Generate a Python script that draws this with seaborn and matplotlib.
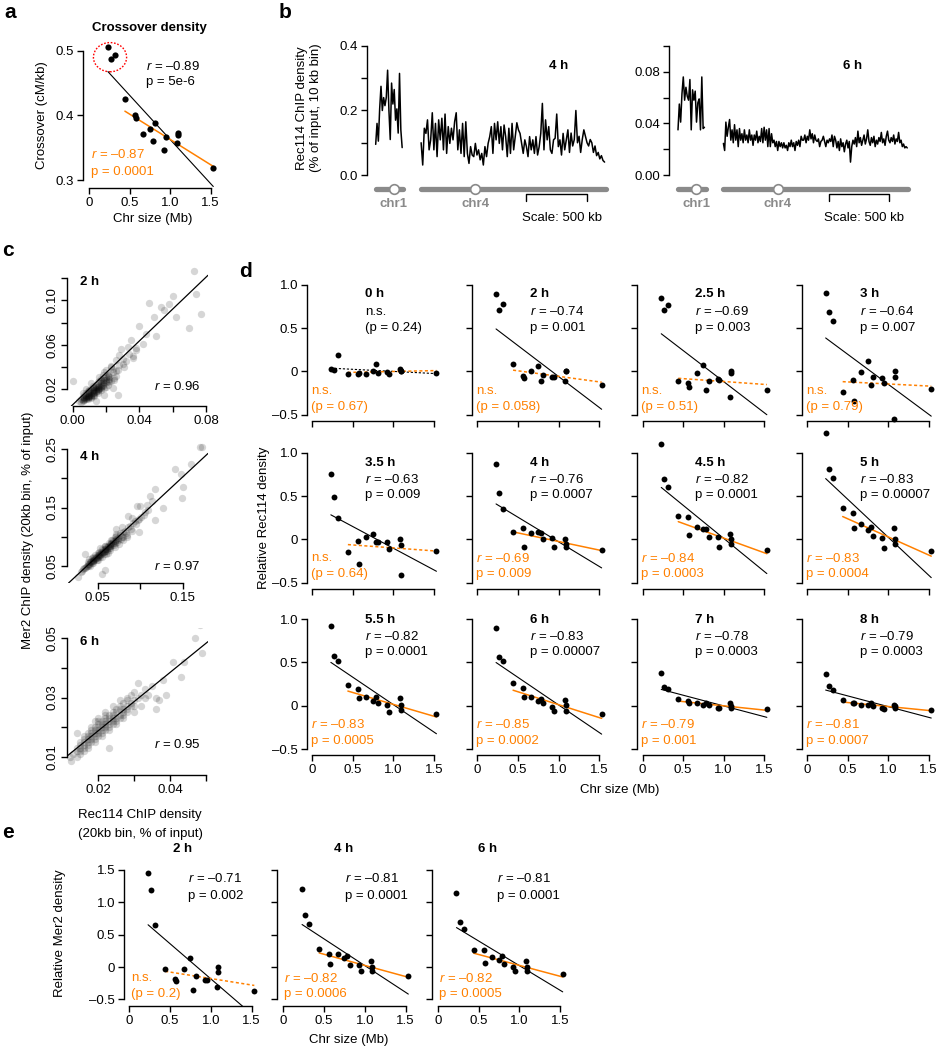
import numpy as np
import pandas as pd
import seaborn as sns
import matplotlib.pyplot as plt
from matplotlib.patches import Ellipse

sns.set_theme(style="ticks")
plt.rcParams["font.family"] = ["Liberation Sans", "DejaVu Sans"]
plt.rcParams["mathtext.fontset"] = "custom"
plt.rcParams["mathtext.rm"] = "Liberation Sans"
plt.rcParams["mathtext.it"] = "Liberation Sans:italic"
for k in ["axes.edgecolor", "xtick.color", "ytick.color", "text.color", "axes.labelcolor"]:
    plt.rcParams[k] = "black"

ORANGE = "#FF8000"
GRAY = "#8a8a8a"
FS = 9.5

# ---------------- data ----------------
chroms = ["chr1", "chr2", "chr3", "chr4", "chr5", "chr6", "chr7", "chr8",
          "chr9", "chr10", "chr11", "chr12", "chr13", "chr14", "chr15", "chr16"]
chr_size = [0.230, 0.813, 0.317, 1.532, 0.577, 0.270, 1.091, 0.563,
            0.440, 0.746, 0.667, 1.078, 0.924, 0.784, 1.091, 0.948]
small_chr = ["chr1", "chr3", "chr6"]

# panel a: crossover density (cM/kb)
crossover = [0.505, 0.388, 0.494, 0.319, 0.396, 0.487, 0.370, 0.401,
             0.425, 0.379, 0.372, 0.357, 0.347, 0.361, 0.373, 0.367]

# panel b: Rec114 ChIP traces (% of input, 10 kb bins)
b4_chr1 = [0.095, 0.16, 0.105, 0.205, 0.275, 0.2, 0.24, 0.215, 0.24, 0.325, 0.2,
           0.11, 0.285, 0.22, 0.265, 0.17, 0.205, 0.13, 0.315, 0.14, 0.085]
b4_chr4 = [0.100, 0.031, 0.145, 0.129, 0.171, 0.078, 0.109, 0.193, 0.078, 0.160,
           0.057, 0.171, 0.109, 0.176, 0.078, 0.189, 0.067, 0.150, 0.098, 0.145,
           0.109, 0.165, 0.193, 0.078, 0.140, 0.067, 0.160, 0.057, 0.165, 0.067,
           0.036, 0.088, 0.062, 0.057, 0.098, 0.062, 0.078, 0.047, 0.067, 0.031,
           0.088, 0.057, 0.098, 0.119, 0.150, 0.067, 0.160, 0.109, 0.165, 0.098,
           0.150, 0.078, 0.155, 0.119, 0.057, 0.145, 0.067, 0.160, 0.078, 0.119,
           0.162, 0.140, 0.129, 0.098, 0.067, 0.109, 0.088, 0.057, 0.119, 0.078,
           0.109, 0.067, 0.119, 0.062, 0.088, 0.129, 0.222, 0.078, 0.171, 0.109,
           0.150, 0.078, 0.067, 0.109, 0.114, 0.189, 0.088, 0.109, 0.062, 0.129,
           0.078, 0.109, 0.14, 0.07, 0.13, 0.09, 0.11, 0.20, 0.10, 0.12,
           0.07, 0.11, 0.14, 0.12, 0.10, 0.09, 0.11, 0.10, 0.07, 0.09,
           0.06, 0.07, 0.05, 0.06, 0.045, 0.04]
b6_chr1 = [0.035, 0.055, 0.041, 0.063, 0.076, 0.058, 0.068, 0.061, 0.058, 0.074, 0.035,
           0.066, 0.058, 0.065, 0.041, 0.056, 0.059, 0.035, 0.076, 0.036, 0.037]
b6_chr4 = [0.0245, 0.019, 0.041, 0.030, 0.037, 0.043, 0.027, 0.035, 0.025, 0.039,
           0.027, 0.035, 0.022, 0.036, 0.027, 0.032, 0.025, 0.035, 0.027, 0.031,
           0.025, 0.035, 0.027, 0.031, 0.023, 0.031, 0.027, 0.034, 0.025, 0.030,
           0.026, 0.036, 0.025, 0.037, 0.027, 0.035, 0.022, 0.036, 0.022, 0.032,
           0.025, 0.027, 0.022, 0.026, 0.019, 0.026, 0.022, 0.025, 0.021, 0.025,
           0.021, 0.023, 0.019, 0.025, 0.022, 0.027, 0.022, 0.025, 0.019, 0.026,
           0.023, 0.027, 0.022, 0.030, 0.027, 0.027, 0.031, 0.025, 0.030, 0.027,
           0.035, 0.028, 0.032, 0.025, 0.031, 0.027, 0.026, 0.028, 0.022, 0.026,
           0.027, 0.030, 0.026, 0.022, 0.027, 0.025, 0.028, 0.026, 0.031, 0.022,
           0.030, 0.027, 0.021, 0.026, 0.019, 0.028, 0.022, 0.025, 0.018, 0.024,
           0.027, 0.021, 0.026, 0.010, 0.022, 0.027, 0.024, 0.029, 0.022, 0.034,
           0.025, 0.029, 0.023, 0.027, 0.031, 0.024, 0.028, 0.035, 0.026, 0.023,
           0.029, 0.025, 0.030, 0.022, 0.027, 0.024, 0.029, 0.026, 0.033, 0.025,
           0.028, 0.023, 0.030, 0.034, 0.027, 0.025, 0.029, 0.026, 0.031, 0.024,
           0.028, 0.026, 0.033, 0.025, 0.027, 0.022, 0.024, 0.021, 0.022, 0.021]
centromere = {"chr1": 0.151, "chr4": 0.449}

# panel c: Mer2 vs Rec114 (20 kb bins)
c2_rec114 = [0.073, 0.060, 0.074, 0.046, 0.053, 0.058, 0.055, 0.077, 0.070, 0.049,
             0.040, 0.050, 0.042, 0.035, 0.033, 0.029, 0.028, 0.032, 0.026, 0.023,
             0.020, 0.018, 0.027, 0.019, 0.0004, 0.019, 0.062, 0.038, 0.044, 0.036,
             0.030, 0.024, 0.021, 0.025, 0.004, 0.005, 0.006, 0.006, 0.007, 0.007,
             0.008, 0.008, 0.009, 0.009, 0.010, 0.010, 0.010, 0.011, 0.011, 0.012,
             0.012, 0.012, 0.013, 0.013, 0.014, 0.014, 0.015, 0.015, 0.016, 0.016,
             0.017, 0.017, 0.018, 0.019, 0.020, 0.021, 0.022, 0.024, 0.013, 0.015,
             0.017, 0.008, 0.011, 0.020, 0.022, 0.025, 0.009, 0.011, 0.006, 0.016,
             0.019, 0.023, 0.026, 0.028, 0.030, 0.031, 0.034, 0.036, 0.038, 0.024,
             0.027, 0.014,
             0.005, 0.006, 0.007, 0.007, 0.008, 0.008, 0.009, 0.009, 0.010, 0.010,
             0.011, 0.011, 0.012, 0.012, 0.013, 0.013, 0.014, 0.014, 0.015, 0.015,
             0.016, 0.016, 0.017, 0.017, 0.018, 0.018, 0.019, 0.020, 0.021, 0.022,
             0.009, 0.010, 0.012, 0.013, 0.014, 0.015, 0.017, 0.018, 0.020, 0.022,
             0.007, 0.008, 0.011, 0.013, 0.015, 0.017, 0.019, 0.021, 0.023, 0.026]
c2_mer2 = [0.127, 0.104, 0.106, 0.098, 0.094, 0.097, 0.091, 0.088, 0.075, 0.085,
           0.077, 0.068, 0.061, 0.064, 0.058, 0.056, 0.051, 0.045, 0.046, 0.041,
           0.037, 0.033, 0.037, 0.028, 0.027, 0.015, 0.085, 0.055, 0.070, 0.048,
           0.043, 0.038, 0.032, 0.028, 0.009, 0.011, 0.010, 0.013, 0.012, 0.015,
           0.013, 0.016, 0.014, 0.018, 0.015, 0.019, 0.017, 0.016, 0.020, 0.018,
           0.021, 0.023, 0.019, 0.022, 0.020, 0.024, 0.022, 0.026, 0.023, 0.027,
           0.025, 0.029, 0.026, 0.030, 0.028, 0.033, 0.031, 0.035, 0.015, 0.018,
           0.021, 0.020, 0.025, 0.022, 0.026, 0.030, 0.011, 0.013, 0.016, 0.031,
           0.035, 0.040, 0.036, 0.042, 0.047, 0.040, 0.052, 0.050, 0.057, 0.021,
           0.015, 0.009,
           0.008, 0.009, 0.010, 0.011, 0.011, 0.012, 0.012, 0.013, 0.013, 0.014,
           0.014, 0.015, 0.015, 0.016, 0.016, 0.017, 0.017, 0.018, 0.019, 0.020,
           0.020, 0.021, 0.022, 0.023, 0.023, 0.024, 0.025, 0.026, 0.027, 0.029,
           0.016, 0.018, 0.019, 0.021, 0.022, 0.024, 0.027, 0.028, 0.031, 0.034,
           0.013, 0.014, 0.012, 0.014, 0.016, 0.019, 0.021, 0.024, 0.027, 0.032]
c4_rec114 = [0.170, 0.173, 0.141, 0.148, 0.160, 0.150, 0.149, 0.117, 0.112, 0.114,
             0.096, 0.100, 0.127, 0.108, 0.086, 0.090, 0.117, 0.078, 0.072, 0.098,
             0.080, 0.035, 0.059, 0.055, 0.027, 0.030, 0.033, 0.035, 0.037, 0.038,
             0.040, 0.041, 0.042, 0.043, 0.044, 0.045, 0.046, 0.047, 0.048, 0.049,
             0.050, 0.051, 0.052, 0.053, 0.054, 0.055, 0.056, 0.057, 0.058, 0.059,
             0.060, 0.061, 0.062, 0.063, 0.064, 0.065, 0.066, 0.067, 0.068, 0.070,
             0.072, 0.074, 0.076, 0.078, 0.080, 0.083, 0.086, 0.089, 0.092, 0.095,
             0.099, 0.104, 0.109, 0.050, 0.055, 0.060, 0.065, 0.070, 0.075, 0.045,
             0.050, 0.058, 0.066, 0.072, 0.080, 0.085, 0.062, 0.053, 0.040, 0.070,
             0.036, 0.038, 0.040, 0.042, 0.044, 0.046, 0.048, 0.050, 0.052, 0.054,
             0.056, 0.058, 0.060, 0.062, 0.064, 0.066, 0.068, 0.070, 0.072, 0.074,
             0.041, 0.045, 0.049, 0.053, 0.057, 0.061, 0.065, 0.069, 0.073, 0.077,
             0.039, 0.043, 0.047, 0.051, 0.055, 0.059, 0.063, 0.067, 0.071, 0.076,
             0.082, 0.088, 0.094, 0.101, 0.032, 0.034, 0.084, 0.090, 0.097, 0.106]
c4_mer2 = [0.253, 0.253, 0.216, 0.207, 0.224, 0.185, 0.167, 0.182, 0.170, 0.161,
           0.152, 0.152, 0.150, 0.155, 0.135, 0.132, 0.129, 0.117, 0.114, 0.108,
           0.099, 0.070, 0.043, 0.037, 0.031, 0.040, 0.045, 0.046, 0.050, 0.053,
           0.052, 0.056, 0.059, 0.055, 0.061, 0.058, 0.064, 0.062, 0.066, 0.063,
           0.069, 0.067, 0.071, 0.068, 0.074, 0.072, 0.077, 0.074, 0.079, 0.076,
           0.082, 0.079, 0.085, 0.081, 0.087, 0.084, 0.090, 0.086, 0.093, 0.090,
           0.097, 0.095, 0.103, 0.100, 0.108, 0.106, 0.116, 0.113, 0.124, 0.121,
           0.131, 0.137, 0.145, 0.060, 0.066, 0.070, 0.077, 0.083, 0.088, 0.066,
           0.073, 0.085, 0.094, 0.104, 0.095, 0.100, 0.073, 0.080, 0.062, 0.100,
           0.048, 0.050, 0.054, 0.056, 0.058, 0.061, 0.063, 0.066, 0.069, 0.071,
           0.074, 0.076, 0.079, 0.082, 0.084, 0.087, 0.089, 0.092, 0.095, 0.098,
           0.050, 0.055, 0.060, 0.065, 0.070, 0.075, 0.080, 0.086, 0.091, 0.096,
           0.057, 0.063, 0.068, 0.074, 0.079, 0.084, 0.090, 0.095, 0.101, 0.107,
           0.110, 0.118, 0.127, 0.133, 0.042, 0.047, 0.103, 0.109, 0.128, 0.142]
c6_rec114 = [0.0484, 0.047, 0.049, 0.041, 0.044, 0.043, 0.039, 0.037, 0.036, 0.036,
             0.033, 0.032, 0.030, 0.028, 0.027, 0.023, 0.014, 0.0125, 0.031, 0.029,
             0.014, 0.015, 0.015, 0.016, 0.016, 0.017, 0.017, 0.018, 0.018, 0.019,
             0.019, 0.020, 0.020, 0.021, 0.021, 0.022, 0.022, 0.023, 0.023, 0.024,
             0.024, 0.025, 0.025, 0.026, 0.026, 0.027, 0.028, 0.029, 0.013, 0.014,
             0.017, 0.019, 0.021, 0.018, 0.020, 0.022, 0.024, 0.026, 0.016, 0.023,
             0.025, 0.027, 0.015, 0.012, 0.030, 0.028,
             0.015, 0.016, 0.017, 0.018, 0.019, 0.020, 0.021, 0.022, 0.023, 0.024,
             0.016, 0.017, 0.018, 0.019, 0.020, 0.021, 0.022, 0.023, 0.024, 0.025,
             0.017, 0.018, 0.019, 0.020, 0.021, 0.022, 0.023, 0.024, 0.025, 0.026,
             0.014, 0.015, 0.016, 0.027, 0.028, 0.029, 0.030, 0.031, 0.032, 0.033,
             0.026, 0.027, 0.028, 0.030, 0.035, 0.038, 0.034, 0.020, 0.019, 0.022]
c6_mer2 = [0.0544, 0.050, 0.045, 0.042, 0.042, 0.037, 0.031, 0.029, 0.030, 0.026,
           0.033, 0.027, 0.025, 0.029, 0.023, 0.013, 0.018, 0.0086, 0.035, 0.031,
           0.012, 0.013, 0.015, 0.014, 0.016, 0.015, 0.017, 0.016, 0.018, 0.017,
           0.019, 0.018, 0.020, 0.019, 0.021, 0.020, 0.022, 0.021, 0.023, 0.022,
           0.024, 0.023, 0.025, 0.024, 0.026, 0.026, 0.027, 0.028, 0.011, 0.010,
           0.013, 0.015, 0.017, 0.020, 0.022, 0.025, 0.027, 0.029, 0.012, 0.019,
           0.021, 0.024, 0.011, 0.010, 0.029, 0.025,
           0.014, 0.015, 0.016, 0.017, 0.018, 0.019, 0.020, 0.021, 0.022, 0.023,
           0.017, 0.018, 0.019, 0.020, 0.021, 0.022, 0.023, 0.024, 0.025, 0.026,
           0.014, 0.015, 0.016, 0.017, 0.018, 0.019, 0.020, 0.021, 0.022, 0.023,
           0.013, 0.012, 0.013, 0.025, 0.026, 0.027, 0.027, 0.030, 0.031, 0.030,
           0.027, 0.028, 0.030, 0.032, 0.034, 0.036, 0.031, 0.023, 0.022, 0.024]
c_times = ["2 h", "4 h", "6 h"]
c_r = ["0.96", "0.97", "0.95"]
c_slope = [1.44, 1.35, 0.977]
c_intercept = [0.0058, -0.0003, -0.0007]

# panel d: relative Rec114 density per chromosome (chr1..chr16)
rec_0h = [0.03, -0.02, 0.19, -0.015, -0.02, 0.015, 0.01, -0.025, -0.03, 0.005, -0.03, 0.025, -0.005, 0.09, 0.0, -0.03]
rec_2h = [0.89, -0.04, 0.78, -0.16, -0.08, 0.71, 0.01, -0.055, 0.085, 0.06, 0.008, -0.11, -0.06, -0.115, 0.0, -0.06]
rec_2_5h = [0.85, -0.108, 0.77, -0.22, -0.18, 0.71, 0.0, -0.13, -0.115, 0.073, -0.015, -0.29, -0.09, -0.21, -0.015, -0.10]
rec_3h = [0.90, -0.06, 0.58, -0.20, -0.34, 0.68, 0.0, -0.10, -0.235, 0.123, -0.005, -0.55, -0.077, -0.16, -0.06, -0.138]
rec_3_5h = [0.76, -0.027, 0.25, -0.13, -0.28, 0.485, -0.07, -0.015, -0.14, 0.065, 0.023, 0.0, -0.035, -0.027, -0.41, -0.11]
rec_4h = [0.865, 0.004, 0.35, -0.123, -0.085, 0.54, -0.09, 0.135, 0.08, 0.08, 0.077, 0.004, 0.02, 0.077, -0.055, -0.09]
rec_4_5h = [1.10, 0.023, 0.60, -0.123, 0.05, 0.70, 0.0, 0.255, 0.27, 0.115, 0.138, 0.06, 0.023, 0.115, -0.054, -0.085]
rec_5h = [1.23, 0.042, 0.71, -0.135, 0.127, 0.81, 0.004, 0.31, 0.36, 0.108, 0.173, 0.127, 0.012, 0.138, -0.058, -0.096]
rec_5_5h = [0.92, 0.027, 0.52, -0.096, 0.088, 0.57, 0.008, 0.19, 0.24, 0.05, 0.096, 0.088, 0.012, 0.096, -0.05, -0.07]
rec_6h = [0.90, 0.027, 0.51, -0.096, 0.104, 0.56, 0.008, 0.20, 0.26, 0.058, 0.104, 0.069, -0.012, 0.077, -0.058, -0.065]
rec_7h = [0.377, 0.004, 0.19, -0.038, 0.03, 0.21, 0.0, 0.058, 0.08, 0.012, 0.03, 0.027, -0.027, 0.03, -0.027, -0.027]
rec_8h = [0.36, 0.0, 0.18, -0.05, 0.027, 0.227, 0.0, 0.035, 0.065, 0.012, 0.008, 0.012, -0.027, 0.027, -0.03, -0.038]
d_times = ["0 h", "2 h", "2.5 h", "3 h", "3.5 h", "4 h", "4.5 h", "5 h", "5.5 h", "6 h", "7 h", "8 h"]
d_values = [rec_0h, rec_2h, rec_2_5h, rec_3h, rec_3_5h, rec_4h, rec_4_5h, rec_5h, rec_5_5h, rec_6h, rec_7h, rec_8h]
d_r_all = ["", "–0.74", "–0.69", "–0.64", "–0.63", "–0.76", "–0.82", "–0.83", "–0.82", "–0.83", "–0.78", "–0.79"]
d_p_all = ["0.24", "0.001", "0.003", "0.007", "0.009", "0.0007", "0.0001", "0.00007", "0.0001", "0.00007", "0.0003", "0.0003"]
d_r_large = ["", "", "", "", "", "–0.69", "–0.84", "–0.83", "–0.83", "–0.85", "–0.79", "–0.81"]
d_p_large = ["0.67", "0.058", "0.51", "0.79", "0.64", "0.009", "0.0003", "0.0004", "0.0005", "0.0002", "0.001", "0.0007"]

# panel e: relative Mer2 density
mer_2h = [1.45, -0.134, 0.655, -0.37, -0.216, 1.19, 0.0, -0.18, -0.03, 0.144, -0.03, -0.31, -0.206, -0.36, -0.08, -0.2]
mer_4h = [1.2, 0.026, 0.66, -0.14, 0.04, 0.8, 0.0, 0.206, 0.273, 0.144, 0.196, 0.1, 0.026, 0.175, -0.06, -0.067]
mer_6h = [1.14, 0.052, 0.59, -0.113, 0.062, 0.70, 0.0, 0.258, 0.268, 0.103, 0.155, 0.093, 0.0, 0.165, -0.062, -0.062]
e_times = ["2 h", "4 h", "6 h"]
e_values = [mer_2h, mer_4h, mer_6h]
e_r_all = ["–0.71", "–0.81", "–0.81"]
e_p_all = ["0.002", "0.0001", "0.0001"]
e_r_large = ["", "–0.82", "–0.82"]
e_p_large = ["0.2", "0.0006", "0.0005"]

# ---------------- helpers ----------------
W, H = 939, 1050
fig = plt.figure(figsize=(W / 100, H / 100), dpi=100)
fig.patch.set_facecolor("white")


def new_ax(box):
    left, top, right, bottom = box
    return fig.add_axes([left / W, 1 - bottom / H, (right - left) / W, (bottom - top) / H])


def frame(ax, box, xcal, ycal, xt=None, xl=None, yt=None, yl=None, yrot=0):
    left, top, right, bottom = box
    (xv0, xp0), (xv1, xp1) = xcal
    sx = (xv1 - xv0) / (xp1 - xp0)
    ax.set_xlim(xv0 + (left - xp0) * sx, xv0 + (right - xp0) * sx)
    (yv0, yp0), (yv1, yp1) = ycal
    sy = (yv1 - yv0) / (yp1 - yp0)
    ax.set_ylim(yv0 + (bottom - yp0) * sy, yv0 + (top - yp0) * sy)
    ax.set_facecolor("none")
    ax.grid(False)
    ax.set_xlabel("")
    ax.set_ylabel("")
    for s in ("top", "right"):
        ax.spines[s].set_visible(False)
    for s in ("left", "bottom"):
        ax.spines[s].set_linewidth(1.0)
    if xt is None:
        ax.spines["bottom"].set_visible(False)
        ax.set_xticks([])
    else:
        ax.set_xticks(xt)
        ax.set_xticklabels(xl if xl is not None else [""] * len(xt))
        ax.spines["bottom"].set_bounds(xt[0], xt[-1])
    if yt is None:
        ax.spines["left"].set_visible(False)
        ax.set_yticks([])
    else:
        ax.set_yticks(yt)
        labs = yl if yl is not None else [""] * len(yt)
        if yrot:
            ax.set_yticklabels(labs, rotation=90, va="center")
        else:
            ax.set_yticklabels(labs)
        ax.spines["left"].set_bounds(yt[0], yt[-1])
    ax.tick_params(direction="out", length=4.3, width=1.0, pad=2.2, labelsize=FS)


def ftext(x, y, s, **kw):
    kw.setdefault("fontsize", FS)
    kw.setdefault("va", "center")
    fig.text(x / W, 1 - y / H, s, **kw)


def size_frame(values):
    df = pd.DataFrame({"chrom": chroms, "size": chr_size, "value": values})
    df["large"] = ~df["chrom"].isin(small_chr)
    return df


def fit_panel(ax, df, sig_all, sig_large, s=18):
    ls_all = "-" if sig_all else (0, (2, 1.6))
    ls_large = "-" if sig_large else (0, (2, 1.6))
    sns.regplot(data=df, x="size", y="value", ax=ax, scatter=False, ci=None,
                color="black", line_kws=dict(lw=0.8, ls=ls_all))
    sns.regplot(data=df[df["large"]], x="size", y="value", ax=ax, scatter=False,
                ci=None, color=ORANGE, line_kws=dict(lw=1.1, ls=ls_large))
    sns.scatterplot(data=df, x="size", y="value", ax=ax, color="black", s=s,
                    linewidth=0, clip_on=False, zorder=4)


size_ticks = [0, 0.5, 1.0, 1.5]
size_labels = ["0", "0.5", "1.0", "1.5"]

# ---------------- panel a ----------------
box = (82.7, 44, 216, 188.3)
ax = new_ax(box)
fit_panel(ax, size_frame(crossover), True, True, s=20)
ax.add_patch(Ellipse((0.256, 0.49), 0.41, 0.045, fill=False, ec="red",
                     lw=1.0, ls=(0, (1.2, 1.2)), clip_on=False))
frame(ax, box, ((0, 89.3), (1.5, 210.7)), ((0.5, 50.7), (0.3, 180.3)),
      size_ticks, size_labels, [0.3, 0.4, 0.5], ["0.3", "0.4", "0.5"])
ftext(10, 12, "a", fontsize=15, fontweight="bold", ha="center")
ftext(149, 28, "Crossover density", fontweight="bold", ha="center")
ftext(146, 66.7, "$r$ = –0.89")
ftext(146, 82.3, "p = 5e-6")
ftext(90.7, 155, "$r$ = –0.87", color=ORANGE)
ftext(90.7, 171.7, "p = 0.0001", color=ORANGE)
ftext(41.7, 115, "Crossover (cM/kb)", rotation=90, ha="center")
ftext(153, 219, "Chr size (Mb)", ha="center")

# ---------------- panel b ----------------
chr1_off, chr4_off = 0.072, 0.448
b_panels = [
    ("4 h", b4_chr1, b4_chr4, (367, 40, 612, 225), ((0.4, 46), (0.0, 175)),
     [0, 0.1, 0.2, 0.3, 0.4], ["0.0", "", "0.2", "", "0.4"], 1.59),
    ("6 h", b6_chr1, b6_chr4, (669.3, 40, 914.3, 225), ((0.1, 46), (0.0, 175)),
     [0, 0.02, 0.04, 0.06, 0.08, 0.10], ["0.00", "", "0.04", "", "0.08", ""], 1.52),
]
for name, tr1, tr4, box, ycal, yt, yl, title_x in b_panels:
    ax = new_ax(box)
    px_mb = 120.8
    for off, trace, size in ((chr1_off, tr1, chr_size[0]), (chr4_off, tr4, chr_size[3])):
        xs = off + np.arange(len(trace)) * size / len(trace)
        sns.lineplot(x=xs, y=trace, ax=ax, color="black", lw=1.1, estimator=None, sort=False)
    tf = ax.get_xaxis_transform()
    for off, chrom, size in ((chr1_off, "chr1", chr_size[0]), (chr4_off, "chr4", chr_size[3])):
        ax.plot([off, off + size], [0.196, 0.196], transform=tf, color=GRAY, lw=3.8,
                solid_capstyle="round", clip_on=False)
        ax.scatter([off + centromere[chrom]], [0.196], transform=tf, s=48, facecolor="white",
                   edgecolor=GRAY, linewidth=1.2, zorder=5, clip_on=False)
        ax.text(off + centromere[chrom], 0.112, chrom, transform=tf, ha="center", va="center",
                color=GRAY, fontsize=FS, fontweight="bold")
    ax.plot([1.32, 1.32, 1.82, 1.82], [0.128, 0.166, 0.166, 0.128], transform=tf,
            color="black", lw=1.0, clip_on=False)
    ax.text(1.615, 0.036, "Scale: 500 kb", transform=tf, ha="center", va="center", fontsize=FS)
    ax.text(title_x, 0.862, name, transform=tf, ha="center", va="center", fontsize=FS,
            fontweight="bold")
    left = box[0]
    frame(ax, box, ((0, left), (1, left + px_mb)), ycal, None, None, yt, yl)
ftext(285, 12, "b", fontsize=15, fontweight="bold", ha="center")
ftext(302, 108, "Rec114 ChIP density", rotation=90, ha="center")
ftext(316, 108, "(% of input, 10 kb bin)", rotation=90, ha="center")

# ---------------- panel c ----------------
c_data = [(c2_rec114, c2_mer2), (c4_rec114, c4_mer2), (c6_rec114, c6_mer2)]
c_layout = [
    ((67.3, 266, 208, 406), ((0, 72.7), (0.08, 206)), ((0.12, 278.3), (0.02, 389)),
     [0, 0.02, 0.04, 0.06, 0.08], ["0.00", "", "0.04", "", "0.08"],
     [0.02, 0.04, 0.06, 0.08, 0.10, 0.12], ["0.02", "", "0.06", "", "0.10", ""], 282, 387),
    ((67.3, 439, 208, 583), ((0.05, 97.7), (0.15, 182.7)), ((0.25, 449), (0.05, 566)),
     [0.05, 0.10, 0.15], ["0.05", "", "0.15"],
     [0.05, 0.10, 0.15, 0.20, 0.25], ["0.05", "", "0.15", "", "0.25"], 457, 567),
    ((67.3, 628, 208, 775), ((0.02, 98.3), (0.05, 205.7)), ((0.05, 638), (0.01, 757)),
     [0.02, 0.03, 0.04, 0.05], ["0.02", "", "0.04", ""],
     [0.01, 0.02, 0.03, 0.04, 0.05], ["0.01", "", "0.03", "", "0.05"], 642, 745),
]
for i, (xs, ys) in enumerate(c_data):
    box, xcal, ycal, xt, xl, yt, yl, ty, ry = c_layout[i]
    ax = new_ax(box)
    sns.scatterplot(x=xs, y=ys, ax=ax, color="black", alpha=0.16, s=28, linewidth=0)
    ax.axline((0, c_intercept[i]), slope=c_slope[i], color="black", lw=0.9)
    frame(ax, box, xcal, ycal, xt, xl, yt, yl, yrot=90)
    ftext(80, ty, c_times[i], fontweight="bold")
    ftext(201, ry, "$r$ = " + c_r[i], ha="right")
ftext(8, 250, "c", fontsize=15, fontweight="bold", ha="center")
ftext(28, 530, "Mer2 ChIP density (20kb bin, % of input)", rotation=90, ha="center")
ftext(140, 815, "Rec114 ChIP density", ha="center")
ftext(140, 834, "(20kb bin, % of input)", ha="center")

# ---------------- panel d ----------------
d_yaxis = [307, 472.2, 637.4, 801.7]
d_x0 = [312.2, 477.4, 642.6, 807.0]
d_y1 = [284.7, 452.7, 619.0]
d_xaxis = [420.7, 589.0, 754.7]
d_text_y = [(294.3, 311.7, 328.3, 390.7, 406.7),
            (463.3, 479.3, 495.0, 558.3, 574.0),
            (619.7, 636.3, 652.3, 724.0, 740.7)]
PXMB, PXU = 81.1, 86.7
for i, name in enumerate(d_times):
    r, c = divmod(i, 4)
    box = (d_yaxis[c], d_y1[r] - 6, d_x0[c] + 1.6 * PXMB, d_xaxis[r])
    ax = new_ax(box)
    sig_all = d_r_all[i] != ""
    sig_large = d_r_large[i] != ""
    fit_panel(ax, size_frame(d_values[i]), sig_all, sig_large)
    frame(ax, box, ((0, d_x0[c]), (1.5, d_x0[c] + 1.5 * PXMB)),
          ((1.0, d_y1[r]), (-0.5, d_y1[r] + 1.5 * PXU)),
          size_ticks, size_labels if r == 2 else None,
          [-0.5, 0, 0.5, 1.0], ["–0.5", "0", "0.5", "1.0"] if c == 0 else None)
    ty = d_text_y[r]
    tx = d_yaxis[c] + 58
    ox = d_yaxis[c] + 4
    ftext(tx, ty[0], name, fontweight="bold")
    if sig_all:
        ftext(tx, ty[1], "$r$ = " + d_r_all[i])
        ftext(tx, ty[2], "p = " + d_p_all[i])
    else:
        ftext(tx, ty[1], "n.s.")
        ftext(tx, ty[2], "(p = " + d_p_all[i] + ")")
    if sig_large:
        ftext(ox, ty[3], "$r$ = " + d_r_large[i], color=ORANGE)
        ftext(ox, ty[4], "p = " + d_p_large[i], color=ORANGE)
    else:
        ftext(ox, ty[3], "n.s.", color=ORANGE)
        ftext(ox, ty[4], "(p = " + d_p_large[i] + ")", color=ORANGE)
ftext(245, 272, "d", fontsize=15, fontweight="bold", ha="center")
ftext(264, 518, "Relative Rec114 density", rotation=90, ha="center")
ftext(620, 790, "Chr size (Mb)", ha="center")

# ---------------- panel e ----------------
e_yaxis = [124.0, 277.3, 431.7]
e_x0 = [129.3, 283.3, 437.7]
e_title_x = [182.7, 343.3, 487.3]
e_text_x = [187.7, 345.0, 496.7]
PXMB_E, PXU_E = 81.6, 64.67
for i, name in enumerate(e_times):
    box = (e_yaxis[i], 863, e_x0[i] + 1.6 * PXMB_E, 1006)
    ax = new_ax(box)
    sig_large = e_r_large[i] != ""
    fit_panel(ax, size_frame(e_values[i]), True, sig_large)
    frame(ax, box, ((0, e_x0[i]), (1.5, e_x0[i] + 1.5 * PXMB_E)),
          ((1.5, 870), (-0.5, 870 + 2 * PXU_E)),
          size_ticks, size_labels,
          [-0.5, 0, 0.5, 1.0, 1.5], ["–0.5", "0", "0.5", "1.0", "1.5"] if i == 0 else None)
    ftext(e_title_x[i], 849.3, name, fontweight="bold", ha="center")
    ftext(e_text_x[i], 879, "$r$ = " + e_r_all[i])
    ftext(e_text_x[i], 895.7, "p = " + e_p_all[i])
    ox = e_yaxis[i] + 7
    if sig_large:
        ftext(ox, 978.3, "$r$ = " + e_r_large[i], color=ORANGE)
        ftext(ox, 994.3, "p = " + e_p_large[i], color=ORANGE)
    else:
        ftext(ox, 978.3, "n.s.", color=ORANGE)
        ftext(ox, 994.3, "(p = " + e_p_large[i] + ")", color=ORANGE)
ftext(8, 832, "e", fontsize=15, fontweight="bold", ha="center")
ftext(60, 933, "Relative Mer2 density", rotation=90, ha="center")
ftext(348.3, 1040, "Chr size (Mb)", ha="center")

fig.savefig("out.png", dpi=100)
